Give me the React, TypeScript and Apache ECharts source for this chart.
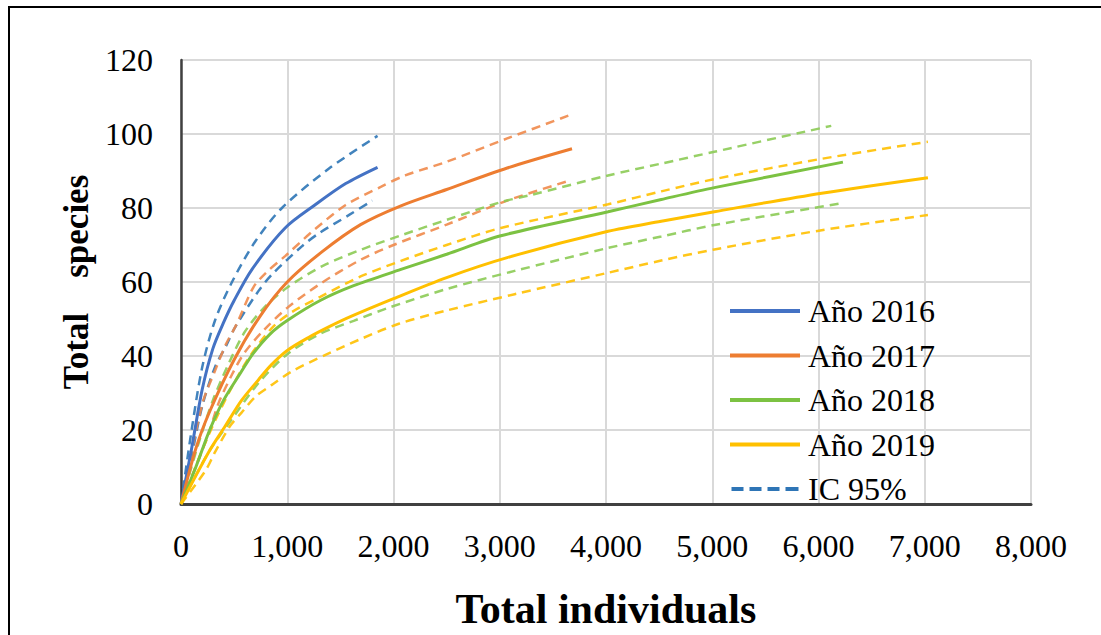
import React, { useEffect, useRef } from "react";
import * as echarts from "echarts";

// ---- data (x = total individuals, y = total species) ----
const mean2016: [number, number][] = [[0,0],[100,15],[200,31],[300,42],[400,49],[500,55],[670,63.5],[980,74.6],[1260,80.8],[1550,86.6],[1850,91]];
const upper2016: [number, number][] = [[0,0],[100,20],[200,37],[320,49.6],[480,60],[700,71],[950,80],[1390,90.6],[1850,99.5]];
const lower2016: [number, number][] = [[0,0],[100,13],[200,26.5],[320,37],[420,42.5],[510,47.8],[730,57.6],[855,62],[1140,69.7],[1300,73.2],[1575,78],[1800,82]];

const mean2017: [number, number][] = [[0,0],[140,15],[270,25],[500,39],[750,51],[1000,60],[1320,68],[1690,75.5],[2070,80.6],[2500,85],[3070,90.8],[3680,96]];
const upper2017: [number, number][] = [[0,0],[200,27],[320,36],[420,43],[525,48.7],[680,58.5],[800,62.5],[980,67],[1250,74],[1550,80.8],[1880,85.7],[2110,88.8],[2500,92.5],[3070,98.8],[3650,105]];
const lower2017: [number, number][] = [[0,0],[260,19],[350,27],[480,35],[600,41],[780,47],[1000,53],[1310,59.5],[1690,66],[2000,70],[2500,75.5],[3070,82],[3670,87.5]];

const mean2018: [number, number][] = [[0,0],[140,10],[270,20],[400,28],[560,35.4],[680,40.7],[840,46],[1000,49.6],[1310,55],[1625,59],[2070,63.4],[2500,67.5],[3010,72.5],[4020,79],[4520,82.3],[5020,85.5],[6230,92.4]];
const upper2018: [number, number][] = [[0,0],[150,15],[300,28],[450,38],[600,46.5],[780,53],[1000,58.5],[1330,64.3],[1700,68.8],[2090,72.8],[2500,76.8],[3000,81.5],[3290,83.5],[4020,88.8],[4520,92],[5020,95.2],[6120,102.2]];
const lower2018: [number, number][] = [[0,0],[260,14],[480,23],[730,32.7],[1000,40.5],[1310,46],[1625,49.5],[1950,53],[2500,58.1],[3140,63],[4020,69.2],[4520,72.3],[5020,75.4],[6220,81.3]];

const mean2019: [number, number][] = [[0,0],[260,14],[415,21],[570,28],[730,33.6],[850,37.6],[1000,41.5],[1200,45],[1400,48],[1600,50.7],[2000,55.5],[2500,61.2],[3070,66.6],[4020,73.7],[4520,76.4],[5020,79],[6030,84],[7030,88.2]];
const upper2019: [number, number][] = [[0,0],[250,18],[450,30],[650,40],[870,48],[1050,52],[1310,56],[1690,61.5],[2070,65.7],[2500,70],[3010,74.6],[4020,81],[4520,84.5],[5020,87.8],[6030,93.3],[7030,97.9]];
const lower2019: [number, number][] = [[0,0],[230,9],[320,14],[460,21],[570,24.7],[700,29],[855,32.2],[1040,35.8],[1360,40.3],[1700,44.7],[2050,48.7],[2500,52.3],[3140,56.7],[4020,62.5],[4520,65.8],[5020,68.8],[6030,74],[7030,78.1]];

const yearNames = ["Año 2016", "Año 2017", "Año 2018", "Año 2019"];
const ciName = "IC 95%";
const solidColors = ["#4472C4", "#ED7D31", "#7CC242", "#FFC000"];
const dashColors = ["#2E75B6", "#F08A4B", "#8CCB55", "#FFC000"];
const ciLegendColor = "#2E75B6";

const FONT = "'Liberation Serif', 'Times New Roman', serif";

export default function App() {
  const ref = useRef<HTMLDivElement>(null);

  useEffect(() => {
    if (!ref.current) return;
    const chart = echarts.init(ref.current, null, { renderer: "svg" });

    const means = [mean2016, mean2017, mean2018, mean2019];
    const uppers = [upper2016, upper2017, upper2018, upper2019];
    const lowers = [lower2016, lower2017, lower2018, lower2019];

    const series: any[] = [];
    yearNames.forEach((name, i) => {
      [uppers[i], lowers[i]].forEach((d, k) => {
        series.push({
          name: name + (k === 0 ? " sup" : " inf"),
          type: "line",
          data: d,
          symbol: "none",
          smooth: 0.3,
          color: dashColors[i],
          lineStyle: { color: dashColors[i], width: 2.5, type: [9, 6], opacity: 0.9 },
          z: 2,
        });
      });
    });
    yearNames.forEach((name, i) => {
      series.push({
        name,
        type: "line",
        data: means[i],
        symbol: "none",
        smooth: 0.3,
        color: solidColors[i],
        lineStyle: { color: solidColors[i], width: 3 },
        z: 3,
      });
    });
    series.push({
      name: ciName,
      type: "line",
      data: [],
      symbol: "none",
      color: ciLegendColor,
      lineStyle: { color: ciLegendColor, width: 3, type: "dashed" },
    });

    const solidIcon = "path://M0,0h70v4H0z";
    const dashIcon = "path://M0,0h12v4H0zM18,0h12v4H18zM36,0h12v4H36zM54,0h13v4H54z";

    chart.setOption({
      animation: false,
      backgroundColor: "#ffffff",
      textStyle: { fontFamily: FONT },
      grid: { left: 181, right: 70, top: 60, bottom: 126 },
      legend: {
        orient: "vertical",
        left: 730,
        top: 295,
        padding: 0,
        itemWidth: 70,
        itemHeight: 4,
        itemGap: 12.5,
        textStyle: { fontFamily: FONT, fontSize: 32, color: "#000", lineHeight: 32, padding: [0, 0, 0, 3] },
        data: [
          ...yearNames.map((n) => ({ name: n, icon: solidIcon })),
          { name: ciName, icon: dashIcon },
        ],
      },
      xAxis: {
        type: "value",
        min: 0,
        max: 8000,
        interval: 1000,
        name: "Total individuals",
        nameLocation: "middle",
        nameGap: 84,
        nameTextStyle: { fontFamily: FONT, fontSize: 42, fontWeight: "bold", color: "#000" },
        axisLine: { show: true, lineStyle: { color: "#404040", width: 3 } },
        axisTick: { show: false },
        axisLabel: {
          fontFamily: FONT,
          fontSize: 32,
          color: "#000",
          margin: 26,
          formatter: (v: number) => v.toLocaleString("en-US"),
        },
        splitLine: { show: true, lineStyle: { color: "#D9D9D9", width: 2 } },
      },
      yAxis: {
        type: "value",
        min: 0,
        max: 120,
        interval: 20,
        name: "Total    species",
        nameLocation: "middle",
        nameGap: 85,
        nameTextStyle: { fontFamily: FONT, fontSize: 35, fontWeight: "bold", color: "#000" },
        axisLine: { show: true, lineStyle: { color: "#404040", width: 2.5 } },
        axisTick: { show: false },
        axisLabel: { fontFamily: FONT, fontSize: 32, color: "#000", margin: 28 },
        splitLine: { show: true, lineStyle: { color: "#D9D9D9", width: 2 } },
      },
      graphic: [
        {
          type: "rect",
          silent: true,
          shape: { x: 9, y: 7, width: 1100, height: 700 },
          style: { fill: "none", stroke: "#000", lineWidth: 2 },
          z: 100,
        },
      ],
      series,
    });

    return () => chart.dispose();
  }, []);

  return (
    <div
      ref={ref}
      style={{ position: "fixed", left: 0, top: 0, width: 1101, height: 635, background: "#fff" }}
    />
  );
}
